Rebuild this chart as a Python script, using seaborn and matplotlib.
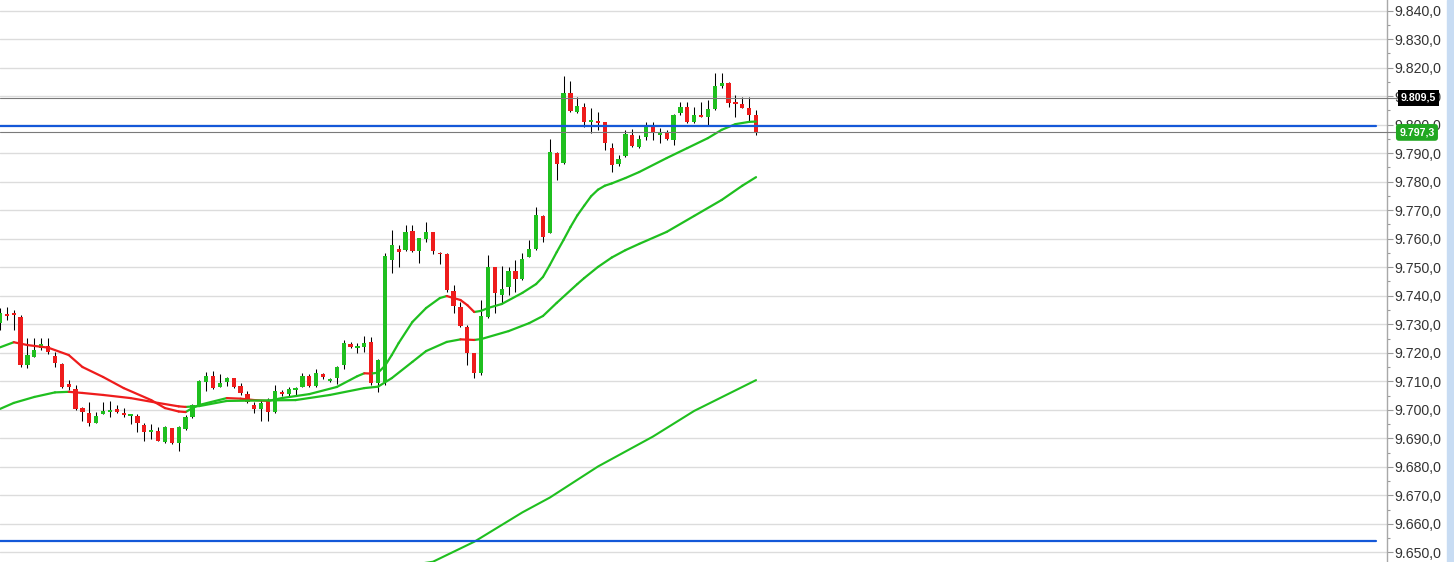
import numpy as np
import pandas as pd
import matplotlib
matplotlib.use("Agg")
import matplotlib.pyplot as plt
from matplotlib.ticker import MultipleLocator, FuncFormatter
from matplotlib.patches import Rectangle
import seaborn as sns

# -------------------------------
# Candles
# -------------------------------
opens = [9730.4, 9733.5, 9733.8, 9732.6, 9715.7, 9718.6, 9721.6, 9722.5, 9719.0, 9716.1,
         9709.0, 9707.3, 9700.6, 9698.9, 9695.4, 9698.5, 9699.2, 9700.2, 9699.0, 9697.8,
         9697.8, 9694.7, 9692.3, 9692.7, 9688.8, 9693.5, 9688.2, 9693.3, 9697.5, 9701.7,
         9709.7, 9712.0, 9708.1, 9709.8, 9711.0, 9708.3, 9705.4, 9701.7, 9700.2, 9703.4,
         9699.3, 9706.3, 9705.4, 9706.9, 9708.1, 9712.0, 9708.3, 9712.5, 9710.1, 9711.0,
         9715.7, 9723.1, 9721.6, 9721.9, 9723.9, 9709.3, 9709.7, 9752.5, 9756.3, 9756.0,
         9762.8, 9755.8, 9759.8, 9762.3, 9755.1, 9754.6, 9741.7, 9736.2, 9729.0, 9719.8,
         9712.8, 9732.6, 9750.0, 9740.2, 9743.2, 9748.8, 9745.8, 9753.7, 9756.3, 9768.0,
         9762.1, 9790.2, 9786.5, 9811.0, 9804.4, 9806.3, 9801.1, 9801.3, 9800.9, 9791.7,
         9786.2, 9789.0, 9796.4, 9792.3, 9795.6, 9799.3, 9796.4, 9797.5, 9794.6, 9804.0,
         9806.3, 9800.9, 9803.4, 9802.8, 9805.4, 9813.6, 9814.7, 9808.1, 9807.3, 9805.8,
         9803.4]
highs = [9735.7, 9736.2, 9735.0, 9733.2, 9725.2, 9725.2, 9725.3, 9725.1, 9720.4, 9716.3,
         9710.4, 9708.7, 9701.1, 9702.8, 9699.3, 9702.8, 9703.2, 9701.7, 9700.7, 9698.5,
         9698.4, 9695.5, 9695.0, 9694.0, 9694.2, 9693.7, 9694.2, 9698.2, 9702.0, 9710.3,
         9713.1, 9713.7, 9712.5, 9711.6, 9711.3, 9709.5, 9706.6, 9702.8, 9703.4, 9704.0,
         9708.7, 9706.9, 9708.1, 9708.1, 9712.8, 9712.5, 9714.2, 9713.0, 9711.3, 9715.3,
         9724.5, 9723.9, 9723.5, 9725.9, 9725.6, 9717.7, 9755.0, 9763.1, 9757.8, 9764.8,
         9764.8, 9760.4, 9766.0, 9762.5, 9755.2, 9754.9, 9743.8, 9737.8, 9729.7, 9719.9,
         9738.5, 9754.3, 9750.2, 9750.4, 9750.2, 9752.5, 9754.9, 9759.6, 9771.3, 9768.2,
         9794.9, 9790.5, 9817.1, 9815.4, 9809.8, 9807.7, 9805.8, 9804.6, 9801.1, 9793.5,
         9789.4, 9798.2, 9798.4, 9796.4, 9801.1, 9801.1, 9798.7, 9798.2, 9803.6, 9808.1,
         9808.1, 9806.3, 9808.1, 9808.7, 9818.0, 9818.0, 9815.1, 9810.4, 9809.8, 9809.8,
         9805.2]
lows = [9728.0, 9731.5, 9728.0, 9715.0, 9714.7, 9718.4, 9721.0, 9719.5, 9715.1, 9707.5,
        9706.9, 9699.9, 9696.2, 9694.4, 9695.2, 9698.4, 9697.6, 9698.8, 9697.6, 9694.9,
        9692.1, 9689.2, 9689.6, 9689.0, 9688.4, 9688.0, 9685.6, 9692.9, 9697.1, 9701.5,
        9706.7, 9707.3, 9708.0, 9708.3, 9707.5, 9705.2, 9702.5, 9698.8, 9696.2, 9696.2,
        9699.0, 9705.0, 9704.6, 9705.2, 9707.9, 9708.0, 9708.1, 9710.7, 9709.9, 9709.0,
        9714.3, 9721.6, 9719.8, 9720.4, 9708.7, 9706.3, 9708.7, 9748.1, 9750.2, 9755.8,
        9755.5, 9751.6, 9759.0, 9754.6, 9751.1, 9741.4, 9733.8, 9729.1, 9715.7, 9711.0,
        9712.2, 9732.1, 9733.8, 9737.3, 9740.2, 9741.4, 9745.5, 9753.5, 9756.0, 9759.0,
        9761.9, 9780.6, 9786.3, 9804.6, 9804.0, 9799.3, 9797.0, 9798.2, 9791.1, 9783.5,
        9785.5, 9788.8, 9792.3, 9792.0, 9794.6, 9794.6, 9793.7, 9794.6, 9792.9, 9803.4,
        9800.5, 9800.5, 9802.6, 9799.9, 9805.2, 9812.8, 9806.3, 9802.8, 9805.8, 9801.1,
        9796.4]
closes = [9733.8, 9733.0, 9733.2, 9715.7, 9719.2, 9721.0, 9723.0, 9720.4, 9716.3, 9708.0,
          9708.0, 9700.3, 9699.2, 9695.4, 9697.8, 9699.7, 9699.9, 9699.1, 9698.2, 9698.4,
          9695.5, 9692.3, 9692.9, 9689.2, 9694.0, 9688.2, 9694.0, 9697.5, 9701.7, 9710.1,
          9711.8, 9707.5, 9709.5, 9711.0, 9708.1, 9706.0, 9702.8, 9700.3, 9702.5, 9699.3,
          9706.6, 9705.5, 9707.3, 9707.7, 9712.0, 9708.3, 9712.8, 9711.6, 9710.8, 9715.1,
          9723.3, 9722.1, 9722.4, 9723.5, 9709.3, 9717.5, 9753.9, 9757.8, 9755.5, 9762.5,
          9755.8, 9760.2, 9762.5, 9755.8, 9754.6, 9742.0, 9736.4, 9729.5, 9719.8, 9712.8,
          9732.9, 9750.2, 9740.9, 9742.3, 9748.8, 9745.8, 9752.8, 9756.3, 9768.3, 9760.7,
          9790.5, 9786.2, 9811.2, 9804.9, 9806.7, 9801.1, 9801.7, 9800.5, 9793.7, 9785.9,
          9787.9, 9796.7, 9792.5, 9794.9, 9799.3, 9797.0, 9797.0, 9794.9, 9803.4, 9806.1,
          9800.9, 9803.4, 9802.8, 9805.4, 9813.6, 9814.7, 9807.7, 9807.2, 9806.0, 9803.4,
          9797.3]

# -------------------------------
# Moving averages (sampled points)
# -------------------------------
fast_idx = [0, 2, 4, 7, 10, 12, 15, 18, 22, 24, 26, 27, 28, 29, 33, 35, 37, 39, 41, 45,
            49, 52, 53, 54, 55, 56, 57, 58, 60, 62, 64, 65, 67, 68, 69, 70, 71, 73, 76, 78,
            79, 80, 81, 82, 83, 84, 85, 86, 87, 88, 89, 91, 93, 97, 100, 103, 105, 107,
            109, 110]
fast_val = [9721.9, 9723.7, 9722.7, 9721.8, 9719.2, 9715.0, 9711.5, 9707.6, 9703.4, 9700.6,
            9699.4, 9699.2, 9700.6, 9701.7, 9704.1, 9703.9, 9703.4, 9703.1, 9704.1, 9705.5,
            9708.0, 9711.8, 9712.8, 9712.7, 9713.0, 9715.4, 9719.2, 9723.4, 9730.8, 9735.7,
            9739.2, 9739.9, 9738.5, 9736.7, 9734.3, 9734.7, 9735.7, 9737.1, 9741.0, 9744.1,
            9746.6, 9750.8, 9755.3, 9759.6, 9764.1, 9768.2, 9771.6, 9774.9, 9777.2, 9778.6,
            9779.4, 9781.3, 9783.4, 9788.3, 9791.8, 9795.3, 9798.2, 9800.2, 9801.0, 9801.1]

mid_idx = [0, 2, 5, 8, 10, 12, 15, 19, 23, 26, 27, 29, 33, 36, 39, 43, 48, 53, 55, 57,
           60, 62, 65, 67, 69, 70, 74, 77, 79, 81, 84, 85, 87, 89, 91, 93, 97, 101, 105,
           108, 110]
mid_val = [9700.3, 9702.4, 9704.5, 9706.1, 9706.3, 9705.9, 9705.2, 9704.1, 9702.4, 9701.2,
           9701.0, 9701.3, 9703.1, 9703.2, 9703.3, 9703.4, 9705.2, 9707.6, 9708.1, 9711.1,
           9716.8, 9720.6, 9723.8, 9724.7, 9724.5, 9724.8, 9727.6, 9730.4, 9732.9, 9737.5,
           9744.1, 9746.2, 9750.1, 9753.4, 9756.0, 9758.2, 9762.4, 9768.0, 9773.6, 9778.6,
           9781.6]

slow_idx = [60, 63, 69, 76, 80, 87, 95, 101, 110]
slow_val = [9645.6, 9646.7, 9653.7, 9664.0, 9669.2, 9680.1, 9690.6, 9699.6, 9710.4]

# horizontal levels
blue_levels = [9799.4, 9654.0]
ref_level = 9809.5
last_price = 9797.3

GREEN = "#1fbf1f"
RED = "#ee1c1c"
BLUE = "#1458d8"


def eu_fmt(v, pos=None):
    s = f"{v:,.1f}"
    return s.replace(",", "X").replace(".", ",").replace("X", ".")


def two_tone(idx, val):
    # split a line into segments coloured by direction
    rows = []
    for k in range(len(idx) - 1):
        trend = "up" if val[k + 1] >= val[k] else "down"
        rows.append({"x": idx[k], "y": val[k], "seg": k, "trend": trend})
        rows.append({"x": idx[k + 1], "y": val[k + 1], "seg": k, "trend": trend})
    return pd.DataFrame(rows)


sns.set_style("white")
plt.rcParams['font.family'] = ['Liberation Sans', 'DejaVu Sans']

W, H = 1454, 562
fig = plt.figure(figsize=(W / 100, H / 100), dpi=100)
ax = fig.add_axes([0, 0, 1387 / W, 1])

# -------------------------------
# Candles
# -------------------------------
x = np.arange(len(opens))
o = np.array(opens)
c = np.array(closes)
up = c >= o
colors = np.where(up, GREEN, RED)
ax.vlines(x, lows, highs, color="black", lw=0.75, zorder=3)
body_h = np.maximum(np.abs(c - o), 0.45)
ax.bar(x, body_h, bottom=np.minimum(o, c), width=0.62, color=colors,
       edgecolor="none", zorder=4)

# -------------------------------
# Moving averages
# -------------------------------
for idx, val in [(fast_idx, fast_val), (mid_idx, mid_val)]:
    sns.lineplot(data=two_tone(idx, val), x="x", y="y", units="seg", estimator=None,
                 hue="trend", palette={"up": GREEN, "down": RED}, legend=False,
                 lw=1.6, sort=False, ax=ax, zorder=5, solid_capstyle="round")
sns.lineplot(x=slow_idx, y=slow_val, color=GREEN, lw=1.5, ax=ax, zorder=5)

# -------------------------------
# Levels
# -------------------------------
for lvl in blue_levels:
    ax.axhline(lvl, xmin=0, xmax=1376 / 1387, color=BLUE, lw=1.6, zorder=6)
for lvl in [ref_level, last_price]:
    ax.axhline(lvl, xmin=0, xmax=1.008, color="#7a7a7a", lw=0.8, zorder=6, clip_on=False)

# -------------------------------
# Axes styling
# -------------------------------
ax.set_xlim(0, 1387 / 6.873)
ax.set_ylim(9646.6, 9843.75)
ax.yaxis.tick_right()
ax.yaxis.set_major_locator(MultipleLocator(10))
ax.yaxis.set_minor_locator(MultipleLocator(5))
ax.yaxis.set_major_formatter(FuncFormatter(eu_fmt))
ax.tick_params(axis="y", which="major", length=4, width=0.8, color="#9a9a9a",
               pad=1.5, labelsize=10.2, labelcolor="#333333")
ax.tick_params(axis="y", which="minor", length=2.5, width=0.8, color="#9a9a9a")
ax.set_xticks([])
ax.set_xlabel("")
ax.set_ylabel("")
ax.grid(axis="y", which="major", color="#dcdcdc", lw=1)
ax.set_axisbelow(True)
for side in ["left", "top", "bottom"]:
    ax.spines[side].set_visible(False)
ax.spines["right"].set_color("#a8a8a8")
ax.spines["right"].set_linewidth(1)

# price tags on the axis (they sit over the tick labels, as in the source chart)
tag_tf = ax.get_yaxis_transform()
ax.text(1.0227, ref_level, eu_fmt(ref_level), transform=tag_tf, ha="center", va="center",
        fontsize=7.6, fontweight="bold", color="white", zorder=10, clip_on=False,
        bbox=dict(boxstyle="square,pad=0.28", fc="black", ec="none"))
ax.text(1.0216, last_price, eu_fmt(last_price), transform=tag_tf, ha="center", va="center",
        fontsize=7.6, fontweight="bold", color="white", zorder=10, clip_on=False,
        bbox=dict(boxstyle="round,pad=0.32,rounding_size=0.3", fc="#22a822", ec="none"))

# light blue strip on the far right
fig.patches.append(Rectangle((1447 / W, 0), 7 / W, 1, transform=fig.transFigure,
                             color="#c8dcf3", zorder=0))

fig.savefig("out.png", dpi=100)
